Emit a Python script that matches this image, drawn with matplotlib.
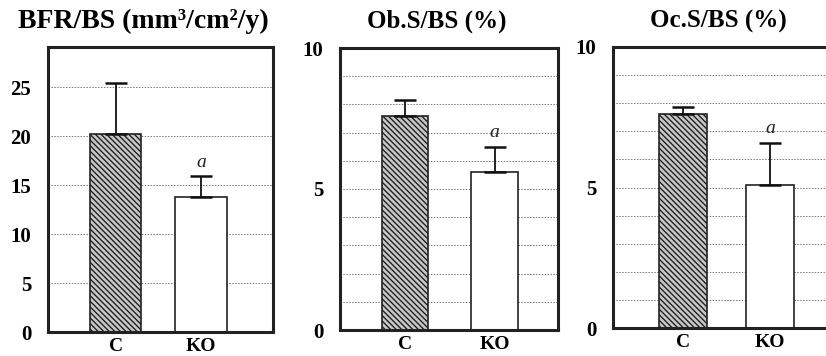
import matplotlib
matplotlib.use("Agg")
import matplotlib.pyplot as plt

plt.rcParams['font.family'] = ['Liberation Serif', 'DejaVu Serif']
plt.rcParams['hatch.color'] = '#444444'
plt.rcParams['hatch.linewidth'] = 1.0

# data
groups = ["C", "KO"]
titles = ["BFR/BS (mm\u00b3/cm\u00b2/y)", "Ob.S/BS (%)", "Oc.S/BS (%)"]
bfr_mean = [20.2, 13.8]
bfr_err = [5.2, 2.1]
obs_mean = [7.6, 5.6]
obs_err = [0.55, 0.9]
ocs_mean = [7.6, 5.1]
ocs_err = [0.25, 1.5]
bfr_ticks = [0, 5, 10, 15, 20, 25]
pct_ticks = [0, 5, 10]

means = [bfr_mean, obs_mean, ocs_mean]
errs = [bfr_err, obs_err, ocs_err]
ticks = [bfr_ticks, pct_ticks, pct_ticks]
ylims = [29.1, 10, 10]
grids = [[5, 10, 15, 20, 25], list(range(1, 10)), list(range(1, 10))]

# layout (pixels -> figure fraction)
W, H = 826, 356
boxes = [(48, 47, 273, 332), (340, 48, 558, 330), (613, 47, 831, 328)]
xlims = [(-0.79, 1.84), (-0.73, 1.71), (-0.80, 1.70)]
widths = [0.6, 0.52, 0.55]
title_x = [143, 437, 718]
title_size = [20, 18, 18]

fig = plt.figure(figsize=(W / 100, H / 100), dpi=100)

for i in range(3):
    l, t, r, b = boxes[i]
    ax = fig.add_axes([l / W, (H - b) / H, (r - l) / W, (b - t) / H])
    ax.set_xlim(*xlims[i])
    ax.set_ylim(0, ylims[i])
    for g in grids[i]:
        ax.axhline(g, color='#777777', lw=0.7, ls=(0, (1.5, 1.5)), zorder=0)
    m = means[i]
    e = errs[i]
    ax.bar([0], [m[0]], width=widths[i], facecolor='#c8c8c8', edgecolor='#222222',
           hatch='\\\\\\\\\\\\', lw=1.2, zorder=2)
    ax.bar([1], [m[1]], width=widths[i], facecolor='white', edgecolor='#222222',
           lw=1.2, zorder=2)
    ax.errorbar([0, 1], m, yerr=[[0, 0], e], fmt='none', ecolor='#111111',
                elinewidth=1.3, capsize=8, capthick=1.8, zorder=3)
    ax.text(1, m[1] + e[1] + ylims[i] * 0.02, 'a', ha='center', va='bottom',
            fontsize=14, style='italic', color='#222222')
    ax.set_yticks(ticks[i])
    ax.set_yticklabels([str(v) for v in ticks[i]], fontsize=15, fontweight='bold')
    ax.set_xticks([0, 1])
    ax.set_xticklabels(groups, fontsize=14, fontweight='bold')
    ax.tick_params(length=0, pad=4)
    ax.tick_params(axis='y', pad=12)
    for s in ax.spines.values():
        s.set_linewidth(2.2)
        s.set_color('#222222')
    fig.text(title_x[i] / W, 1 - 21 / H, titles[i], ha='center', va='center',
             fontsize=title_size[i], fontweight='bold')

fig.savefig("out.png", dpi=100)
